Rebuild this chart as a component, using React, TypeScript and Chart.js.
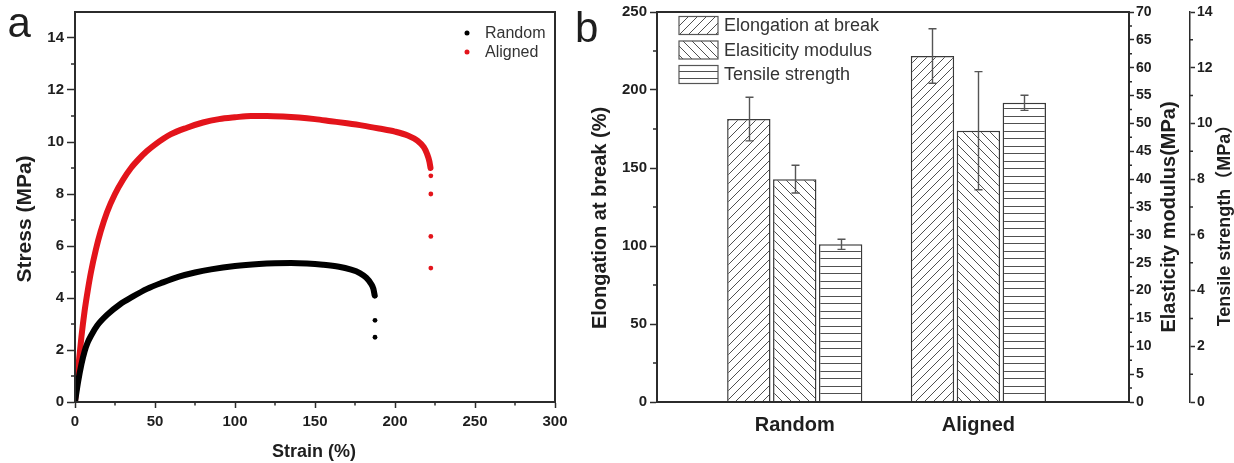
import React, { useEffect, useRef } from 'react';
import { Chart, registerables } from 'chart.js';
Chart.register(...registerables);

const FONT = "'Liberation Sans', Arial, 'Noto Sans CJK SC', sans-serif";
const INK = '#1e1e1e';
const AXIS = '#2b2b2b';
const RED = '#e3141b';
const BLACK = '#000000';

// ---------- Panel a: stress-strain curves ----------
const seriesNames = ['Random', 'Aligned'];
const randomStrain = [0, 2, 4, 6, 8, 10, 14, 20, 28, 36, 45, 55, 65, 75, 85, 100, 115, 125, 135, 145, 155, 165, 172, 178, 182, 185, 186.5, 187.3];
const randomStress = [0, 0.8, 1.45, 1.95, 2.3, 2.55, 2.95, 3.35, 3.75, 4.05, 4.35, 4.6, 4.82, 4.98, 5.1, 5.23, 5.31, 5.34, 5.35, 5.33, 5.28, 5.2, 5.1, 4.96, 4.78, 4.55, 4.35, 4.1];
const randomBreakStrain = [187.5, 187.5, 187.5];
const randomBreakStress = [4.07, 3.14, 2.49];
const alignedStrain = [0, 2, 4, 6, 8, 10, 13, 16, 20, 25, 30, 35, 40, 45, 50, 60, 70, 80, 90, 100, 110, 120, 130, 140, 150, 160, 170, 180, 190, 200, 208, 214, 218, 220, 221.5, 222.2];
const alignedStress = [0, 1.3, 2.5, 3.5, 4.3, 5.0, 5.85, 6.55, 7.3, 8.0, 8.55, 9.0, 9.35, 9.65, 9.9, 10.3, 10.55, 10.75, 10.88, 10.95, 11.0, 11.0, 10.98, 10.94, 10.88, 10.8, 10.72, 10.63, 10.52, 10.4, 10.25, 10.05, 9.8, 9.55, 9.25, 9.0];
const alignedBreakStrain = [222.4, 222.4, 222.4, 222.4];
const alignedBreakStress = [8.7, 8.0, 6.37, 5.15];

const strainRange = [0, 300];
const stressRange = [0, 15];

// ---------- Panel b: bars ----------
const groups = ['Random', 'Aligned'];
const groupPositions = [1, 2];
const groupRange = [0.25, 2.82];
const barLabels = ['Elongation at break', 'Elasiticity modulus', 'Tensile strength'];
const elongation = [181.4, 221.8];
const elongationErr = [14, 17.5];
const modulus = [40.0, 48.7];
const modulusErr = [2.5, 10.6];
const strength = [5.66, 10.74];
const strengthErr = [0.18, 0.27];
const elongationRange = [0, 250];
const modulusRange = [0, 70];
const strengthRange = [0, 14];

function pts(xs: number[], ys: number[]) {
  return xs.map((x, i) => ({ x, y: ys[i] }));
}

function makePattern(kind: 'fwd' | 'back' | 'horiz'): CanvasPattern {
  const c = document.createElement('canvas');
  const s = 9;
  c.width = kind === 'horiz' ? 8 : s;
  c.height = kind === 'horiz' ? 15 : s;
  const g = c.getContext('2d')!;
  g.fillStyle = '#ffffff';
  g.fillRect(0, 0, c.width, c.height);
  g.strokeStyle = '#505050';
  g.lineWidth = 1;
  g.beginPath();
  if (kind === 'fwd') {
    g.moveTo(-1, s + 1); g.lineTo(s + 1, -1);
    g.moveTo(-3, 3); g.lineTo(3, -3);
    g.moveTo(s - 3, s + 3); g.lineTo(s + 3, s - 3);
  } else if (kind === 'back') {
    g.moveTo(-1, -1); g.lineTo(s + 1, s + 1);
    g.moveTo(-3, s - 3); g.lineTo(3, s + 3);
    g.moveTo(s - 3, -3); g.lineTo(s + 3, 3);
  } else {
    g.moveTo(0, 3.5); g.lineTo(8, 3.5);
    g.moveTo(0, 11.5); g.lineTo(8, 11.5);
  }
  g.stroke();
  return g.createPattern(c, 'repeat')!;
}

type Minor = { id: string; step: number; len: number };
function minorTicksPlugin(items: Minor[]) {
  return {
    id: 'minorTicks',
    afterDraw(chart: any) {
      const ctx = chart.ctx;
      ctx.save();
      ctx.strokeStyle = AXIS;
      ctx.lineWidth = 1.5;
      ctx.beginPath();
      for (const it of items) {
        const sc = chart.scales[it.id];
        if (!sc) continue;
        const majors = sc.ticks.map((t: any) => t.value);
        const n = Math.round((sc.max - sc.min) / it.step);
        for (let k = 0; k < n; k++) {
          const v = sc.min + k * it.step;
          if (majors.some((m: number) => Math.abs(m - v) < 1e-6)) continue;
          const p = sc.getPixelForValue(v);
          const pos = sc.options.position;
          if (pos === 'left') { ctx.moveTo(sc.right - it.len, p); ctx.lineTo(sc.right, p); }
          else if (pos === 'right') { ctx.moveTo(sc.left, p); ctx.lineTo(sc.left + it.len, p); }
          else { ctx.moveTo(p, sc.top); ctx.lineTo(p, sc.top + it.len); }
        }
      }
      ctx.stroke();
      ctx.restore();
    },
  };
}

type TextItem = { text: string; x: number; y: number; font: string; rotate?: number; align?: CanvasTextAlign; baseline?: CanvasTextBaseline };
function textPlugin(items: TextItem[]) {
  return {
    id: 'freeText',
    afterDraw(chart: any) {
      const ctx = chart.ctx;
      for (const t of items) {
        ctx.save();
        ctx.font = t.font;
        ctx.fillStyle = INK;
        ctx.textAlign = t.align || 'center';
        ctx.textBaseline = t.baseline || 'middle';
        ctx.translate(t.x, t.y);
        if (t.rotate) ctx.rotate(t.rotate);
        ctx.fillText(t.text, 0, 0);
        ctx.restore();
      }
    },
  };
}

const framePlugin = {
  id: 'frame',
  afterDatasetsDraw(chart: any) {
    const { ctx, chartArea: a } = chart;
    ctx.save();
    ctx.strokeStyle = AXIS;
    ctx.lineWidth = 2;
    ctx.strokeRect(a.left, a.top, a.right - a.left, a.bottom - a.top);
    ctx.restore();
  },
};

function legendAPlugin() {
  const colors = [BLACK, RED];
  return {
    id: 'legendA',
    afterDraw(chart: any) {
      const ctx = chart.ctx;
      ctx.save();
      seriesNames.forEach((name, i) => {
        const y = 33 + i * 19;
        ctx.fillStyle = colors[i];
        ctx.beginPath();
        ctx.arc(467, y, 2.5, 0, Math.PI * 2);
        ctx.fill();
        ctx.fillStyle = '#333';
        ctx.font = `16px ${FONT}`;
        ctx.textAlign = 'left';
        ctx.textBaseline = 'middle';
        ctx.fillText(name, 485, y + 1);
      });
      ctx.restore();
    },
  };
}

function legendBPlugin(x: number) {
  return {
    id: 'legendB',
    afterDraw(chart: any) {
      const ctx = chart.ctx;
      ctx.save();
      chart.data.datasets.forEach((ds: any, i: number) => {
        const y = 16.5 + i * 24.5;
        ctx.fillStyle = ds.backgroundColor;
        ctx.fillRect(x, y, 39, 18);
        ctx.strokeStyle = '#555';
        ctx.lineWidth = 1.2;
        ctx.strokeRect(x, y, 39, 18);
        ctx.fillStyle = '#333';
        ctx.font = `18px ${FONT}`;
        ctx.textAlign = 'left';
        ctx.textBaseline = 'middle';
        ctx.fillText(ds.label, x + 45, y + 10);
      });
      ctx.restore();
    },
  };
}

function errorBarPlugin(errs: number[][]) {
  return {
    id: 'errorBars',
    afterDatasetsDraw(chart: any) {
      const ctx = chart.ctx;
      ctx.save();
      ctx.strokeStyle = '#555';
      ctx.lineWidth = 1.4;
      chart.data.datasets.forEach((ds: any, i: number) => {
        const meta = chart.getDatasetMeta(i);
        const sc = chart.scales[meta.yAxisID];
        meta.data.forEach((bar: any, j: number) => {
          const v = ds.data[j].y;
          const e = errs[i][j];
          const yt = sc.getPixelForValue(v + e);
          const yb = sc.getPixelForValue(v - e);
          const x = Math.round(bar.x) + 0.5;
          ctx.beginPath();
          ctx.moveTo(x, yt); ctx.lineTo(x, yb);
          ctx.moveTo(x - 4, yt); ctx.lineTo(x + 4, yt);
          ctx.moveTo(x - 4, yb); ctx.lineTo(x + 4, yb);
          ctx.stroke();
        });
      });
      ctx.restore();
    },
  };
}

const tickFont = (size: number) => ({ family: FONT, size, weight: 'bold' as const });

function configA(): any {
  const lineDs = (label: string, xs: number[], ys: number[], color: string) => ({
    label, data: pts(xs, ys), showLine: true, pointRadius: 0, borderColor: color, borderWidth: 6,
    cubicInterpolationMode: 'monotone', borderCapStyle: 'round', borderJoinStyle: 'round', fill: false,
  });
  const dotDs = (label: string, xs: number[], ys: number[], color: string) => ({
    label, data: pts(xs, ys), showLine: false, pointRadius: 2.4, pointBackgroundColor: color,
    pointBorderWidth: 0, backgroundColor: color, borderColor: color,
  });
  return {
    type: 'scatter',
    data: {
      datasets: [
        lineDs(seriesNames[0], randomStrain, randomStress, BLACK),
        dotDs(seriesNames[0] + ' break', randomBreakStrain, randomBreakStress, BLACK),
        lineDs(seriesNames[1], alignedStrain, alignedStress, RED),
        dotDs(seriesNames[1] + ' break', alignedBreakStrain, alignedBreakStress, RED),
      ],
    },
    options: {
      animation: false, responsive: false, devicePixelRatio: 1,
      layout: { padding: { left: 0, top: 12, right: 15, bottom: 0 } },
      plugins: { legend: { display: false }, tooltip: { enabled: false } },
      scales: {
        x: {
          type: 'linear', min: strainRange[0], max: strainRange[1],
          afterFit: (s: any) => { s.height = 61; s.paddingLeft = 0; s.paddingRight = 0; },
          ticks: { stepSize: 50, font: tickFont(15), color: INK, padding: 5, includeBounds: false },
          grid: { drawOnChartArea: false, drawTicks: true, tickLength: 6, tickWidth: 1.5, tickColor: AXIS },
          border: { color: AXIS, width: 2 },
        },
        y: {
          type: 'linear', min: stressRange[0], max: stressRange[1],
          afterFit: (s: any) => { s.width = 75; s.paddingTop = 0; s.paddingBottom = 0; },
          ticks: { stepSize: 2, font: tickFont(15), color: INK, padding: 3, includeBounds: false },
          grid: { drawOnChartArea: false, drawTicks: true, tickLength: 8, tickWidth: 1.5, tickColor: AXIS },
          border: { color: AXIS, width: 2 },
        },
      },
    },
    plugins: [
      framePlugin,
      minorTicksPlugin([{ id: 'x', step: 25, len: 3.5 }, { id: 'y', step: 1, len: 4 }]),
      legendAPlugin(),
      textPlugin([
        { text: 'Stress (MPa)', x: 25, y: 219, font: `bold 21px ${FONT}`, rotate: -Math.PI / 2 },
        { text: 'Strain (%)', x: 314, y: 452, font: `bold 18px ${FONT}` },
        { text: 'a', x: 7.5, y: 37, font: `42px ${FONT}`, align: 'left', baseline: 'alphabetic' },
      ]),
    ],
  };
}

function configB(): any {
  const off = 570;
  const pats = [makePattern('fwd'), makePattern('back'), makePattern('horiz')];
  const values = [elongation, modulus, strength];
  const axes = ['yL', 'y1', 'y2'];
  const barDs = (i: number) => ({
    label: barLabels[i], data: pts(groupPositions, values[i]), yAxisID: axes[i],
    backgroundColor: pats[i], borderColor: '#3a3a3a', borderWidth: 1.5,
    categoryPercentage: 0.75, barPercentage: 0.945,
  });
  const yAxis = (range: number[], step: number, pos: string, width: number, fontSize: number, tl: number, bw: number) => ({
    type: 'linear', axis: 'y', position: pos, min: range[0], max: range[1],
    afterFit: (s: any) => { s.width = width; s.paddingTop = 0; s.paddingBottom = 0; },
    ticks: { stepSize: step, font: tickFont(fontSize), color: INK, padding: pos === 'left' ? 3 : 2, includeBounds: false },
    grid: { drawOnChartArea: false, drawTicks: true, tickLength: tl, tickWidth: 1.5, tickColor: AXIS },
    border: { color: AXIS, width: bw },
  });
  return {
    type: 'bar',
    data: { datasets: [barDs(0), barDs(1), barDs(2)] },
    options: {
      animation: false, responsive: false, devicePixelRatio: 1,
      layout: { padding: { left: 0, top: 12, right: 0, bottom: 0 } },
      plugins: { legend: { display: false }, tooltip: { enabled: false } },
      scales: {
        x: {
          type: 'linear', min: groupRange[0], max: groupRange[1], offset: false,
          afterFit: (s: any) => { s.height = 61; s.paddingLeft = 0; s.paddingRight = 0; },
          ticks: {
            stepSize: 1, includeBounds: false, font: tickFont(20), color: INK, padding: 11,
            callback: (v: number) => { const k = groupPositions.indexOf(v); return k >= 0 ? groups[k] : ''; },
          },
          grid: { display: false, drawTicks: false, offset: false },
          border: { color: AXIS, width: 2 },
        },
        yL: yAxis(elongationRange, 50, 'left', 87, 15, 7, 2),
        y1: yAxis(modulusRange, 5, 'right', 61, 14, 5, 2),
        y2: yAxis(strengthRange, 2, 'right', 44, 14, 5, 1.5),
      },
    },
    plugins: [
      framePlugin,
      minorTicksPlugin([{ id: 'yL', step: 25, len: 4 }, { id: 'y1', step: 2.5, len: 3 }, { id: 'y2', step: 1, len: 3 }]),
      errorBarPlugin([elongationErr, modulusErr, strengthErr]),
      legendBPlugin(679 - off),
      textPlugin([
        { text: 'Elongation at break (%)', x: 600 - off, y: 218, font: `bold 20px ${FONT}`, rotate: -Math.PI / 2 },
        { text: 'Elasticity modulus(MPa)', x: 1169 - off, y: 217, font: `bold 20px ${FONT}`, rotate: -Math.PI / 2 },
        { text: 'Tensile strength（MPa）', x: 1225 - off, y: 221, font: `bold 18px ${FONT}`, rotate: -Math.PI / 2 },
        { text: 'b', x: 575 - off, y: 42, font: `42px ${FONT}`, align: 'left', baseline: 'alphabetic' },
      ]),
    ],
  };
}

export default function App() {
  const aRef = useRef<HTMLCanvasElement>(null);
  const bRef = useRef<HTMLCanvasElement>(null);
  useEffect(() => {
    const ca = new Chart(aRef.current!, configA());
    const cb = new Chart(bRef.current!, configB());
    return () => { ca.destroy(); cb.destroy(); };
  }, []);
  return (
    <div style={{ position: 'absolute', left: 0, top: 0, width: 1234, height: 463, background: '#fff' }}>
      <canvas ref={aRef} width={570} height={463} style={{ position: 'absolute', left: 0, top: 0, width: 570, height: 463 }} />
      <canvas ref={bRef} width={664} height={463} style={{ position: 'absolute', left: 570, top: 0, width: 664, height: 463 }} />
    </div>
  );
}
